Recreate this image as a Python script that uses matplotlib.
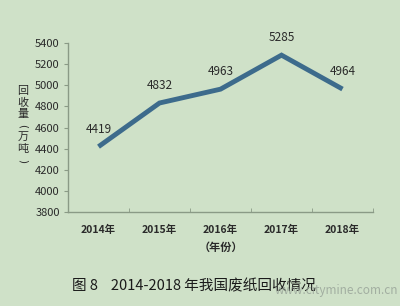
import matplotlib
matplotlib.use("Agg")
import matplotlib.pyplot as plt

years = ["2014年", "2015年", "2016年", "2017年", "2018年"]
values = [4419, 4832, 4963, 5285, 4964]
yticks = [3800, 4000, 4200, 4400, 4600, 4800, 5000, 5200, 5400]
ylabel_chars = ["回", "收", "量", "(", "万", "吨", ")"]

plt.rcParams['font.family'] = ['Noto Sans CJK SC', 'DejaVu Sans']
bg = '#cfe1c8'
fig = plt.figure(figsize=(4, 3.06), dpi=100, facecolor=bg)
ax = fig.add_axes([0.17, 0.307, 0.7625, 0.5525], facecolor=bg)

x = list(range(len(years)))
ax.plot(x, values, color='#3d6b8c', lw=3.5, solid_capstyle='butt', solid_joinstyle='miter')
for xi, v in zip(x, values):
    ax.annotate(str(v), (xi, v), xytext=(0, 8), textcoords='offset points',
                ha='center', va='bottom', fontsize=8.5, color='#2a2a2a')

ax.set_xlim(-0.5, len(years) - 0.5)
ax.set_ylim(3800, 5400)
ax.set_yticks(yticks)
ax.set_yticklabels([str(t) for t in yticks], fontsize=8, color='#2a2a2a')
ax.set_xticks(x)
ax.set_xticklabels(years, fontsize=7.5, color='#2a2a2a', fontweight='bold')
ax.set_xticks([i - 0.5 for i in range(len(years) + 1)], minor=True)
ax.tick_params(axis='x', which='major', length=0, pad=9)
ax.tick_params(axis='x', which='minor', length=3, color='#8a9a86', direction='in')
ax.tick_params(axis='y', length=3, color='#8a9a86', direction='out', pad=3)
for s in ['top', 'right']:
    ax.spines[s].set_visible(False)
for s in ['left', 'bottom']:
    ax.spines[s].set_color('#8a9a86')
    ax.spines[s].set_linewidth(1.0)

# vertical y label, one character per line
y0 = 1 - 91 / 306
step = 11.6 / 306
for i, ch in enumerate(ylabel_chars):
    if ch in "()":
        fig.text(0.057, y0 - i * step, ch, ha='center', va='center', fontsize=7.5,
                 color='#2a2a2a', rotation=-90, family='DejaVu Sans')
    else:
        fig.text(0.057, y0 - i * step, ch, ha='center', va='center', fontsize=8,
                 color='#2a2a2a')

fig.text(0.553, 0.19, "（年份）", ha='center', va='center', fontsize=8,
         color='#2a2a2a', fontweight='bold')
fig.text(0.18, 0.065, "图 8    2014-2018 年我国废纸回收情况", ha='left', va='center',
         fontsize=10.5, color='#1a1a1a')
fig.text(0.995, 0.05, "www.citymine.com.cn", ha='right', va='center',
         fontsize=8.5, color='#9aa59a', alpha=0.85)

fig.savefig("out.png", dpi=100, facecolor=bg)
